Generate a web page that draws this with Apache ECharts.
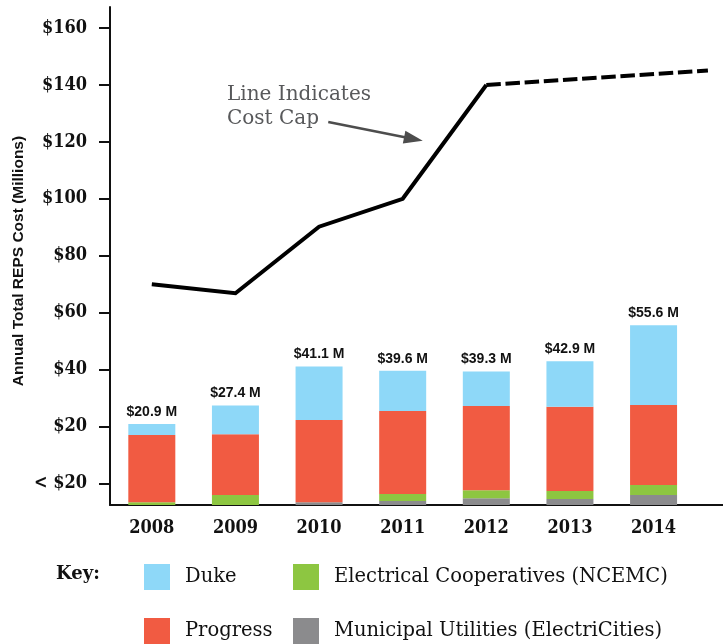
<!DOCTYPE html>
<html>
<head>
<meta charset="utf-8">
<title>Annual Total REPS Cost</title>
<script src="https://cdn.jsdelivr.net/npm/echarts@6/dist/echarts.min.js"></script>
<style>
  html, body { margin: 0; padding: 0; background: #fff; }
  #chart { width: 723px; height: 644px; }
</style>
</head>
<body>
<div id="chart"></div>
<script>
// Years on the category axis
const years = ['2008', '2009', '2010', '2011', '2012', '2013', '2014'];

// Lower end of the value axis (the bars rise from here)
const axisFloor = -7.6;

// Stack segments, in axis units ($ millions)
const municipal = [0, 0, 1.0, 1.4, 2.4, 2.1, 3.5];
const coops = [1.0, 3.5, 0, 2.5, 2.8, 2.8, 3.5];
const progress = [23.6, 21.4, 28.9, 29.1, 29.6, 29.6, 28.1];

// Annual totals written above each bar
const totals = [20.9, 27.4, 41.1, 39.6, 39.3, 42.9, 55.6];

// Cost cap: statutory values, then the projected (dashed) extension
const capYears = [2008, 2009, 2010, 2011, 2012];
const capValues = [70, 66.8, 90.2, 100, 140];
const capProjYears = [2012, 2014.65];
const capProjValues = [140, 145.1];

// Callout arrow pointing at the cap line (year, $M)
const arrowFrom = [2010.11, 127];
const arrowTo = [2011.24, 120.4];

// Tick labels on the value axis
const yTicks = [0, 20, 40, 60, 80, 100, 120, 140, 160];
const yTickLabels = ['< $20', '$20', '$40', '$60', '$80', '$100', '$120', '$140', '$160'];

// Duke segment fills the rest of each bar up to its total
const duke = totals.map((t, i) => +(t - (axisFloor + municipal[i] + coops[i] + progress[i])).toFixed(2));
const floorBase = years.map(() => axisFloor);

const COLORS = {
  duke: '#8ED8F8',
  progress: '#F15B42',
  coops: '#8DC641',
  municipal: '#8B8B8D'
};

const TICK_FONT = '"DejaVu Serif Condensed", "DejaVu Serif", serif';

const chart = echarts.init(document.getElementById('chart'), null, { renderer: 'canvas' });

const barCommon = {
  type: 'bar',
  stack: 'reps',
  stackStrategy: 'all',
  barWidth: 47,
  xAxisIndex: 0,
  yAxisIndex: 0
};

const legendCommon = {
  orient: 'vertical',
  top: 564,
  padding: 0,
  itemWidth: 26,
  itemHeight: 26,
  itemGap: 28,
  icon: 'rect',
  selectedMode: false,
  textStyle: {
    color: '#111',
    fontFamily: '"DejaVu Serif", serif',
    fontSize: 19.5,
    padding: [0, 0, 0, 10]
  }
};

const baseGraphics = [
  {
    type: 'text',
    x: 19,
    y: 261,
    rotation: Math.PI / 2,
    style: {
      text: 'Annual Total REPS Cost (Millions)',
      fill: '#111',
      font: 'bold 15.5px "Liberation Sans", Arial, sans-serif',
      textAlign: 'center',
      textVerticalAlign: 'middle'
    }
  },
  {
    type: 'text',
    left: 227,
    top: 83,
    style: {
      text: 'Line Indicates\nCost Cap',
      fill: '#58595B',
      font: '20px "DejaVu Serif", serif',
      lineHeight: 24
    }
  },
  {
    type: 'text',
    left: 56,
    top: 565,
    style: {
      text: 'Key:',
      fill: '#111',
      font: 'bold 18px "DejaVu Serif", serif'
    }
  }
];

const option = {
  backgroundColor: '#ffffff',
  animation: false,
  grid: {
    left: 110, top: 7, width: 669, height: 498,
    containLabel: false,
    outerBoundsMode: 'none'
  },
  xAxis: [
    {
      type: 'category',
      data: years.concat(['']),
      boundaryGap: true,
      axisLine: { onZero: false, lineStyle: { color: '#111', width: 2 } },
      axisTick: { alignWithLabel: true, length: 12, lineStyle: { color: '#111', width: 2 } },
      axisLabel: {
        margin: 14,
        color: '#111',
        fontFamily: TICK_FONT,
        fontWeight: 'bold',
        fontSize: 18
      },
      splitLine: { show: false }
    },
    {
      type: 'value',
      min: 2007.5,
      max: 2015.5,
      show: false
    }
  ],
  yAxis: {
    type: 'value',
    min: axisFloor,
    max: 167.4,
    axisLine: { show: true, onZero: false, lineStyle: { color: '#111', width: 2 } },
    axisTick: { show: true, length: 11, customValues: yTicks, lineStyle: { color: '#111', width: 2 } },
    axisLabel: {
      customValues: yTicks,
      margin: 23,
      color: '#111',
      fontFamily: TICK_FONT,
      fontWeight: 'bold',
      fontSize: 18,
      formatter: (v) => yTickLabels[yTicks.indexOf(v)]
    },
    splitLine: { show: false }
  },
  legend: [
    Object.assign({}, legendCommon, { data: ['Duke', 'Progress'], left: 144 }),
    Object.assign({}, legendCommon, {
      data: ['Electrical Cooperatives (NCEMC)', 'Municipal Utilities (ElectriCities)'],
      left: 293
    })
  ],
  graphic: baseGraphics,
  series: [
    Object.assign({}, barCommon, {
      name: 'floor',
      data: floorBase,
      silent: true,
      itemStyle: { color: 'rgba(0,0,0,0)' }
    }),
    Object.assign({}, barCommon, {
      name: 'Municipal Utilities (ElectriCities)',
      data: municipal,
      itemStyle: { color: COLORS.municipal }
    }),
    Object.assign({}, barCommon, {
      name: 'Electrical Cooperatives (NCEMC)',
      data: coops,
      itemStyle: { color: COLORS.coops }
    }),
    Object.assign({}, barCommon, {
      name: 'Progress',
      data: progress,
      itemStyle: { color: COLORS.progress }
    }),
    Object.assign({}, barCommon, {
      name: 'Duke',
      data: duke,
      itemStyle: { color: COLORS.duke },
      label: {
        show: true,
        position: 'top',
        distance: 5,
        color: '#111',
        fontFamily: '"Liberation Sans", Arial, sans-serif',
        fontWeight: 'bold',
        fontSize: 14,
        formatter: (p) => '$' + totals[p.dataIndex].toFixed(1) + ' M'
      }
    }),
    {
      name: 'Cost Cap',
      type: 'line',
      xAxisIndex: 1,
      yAxisIndex: 0,
      data: capYears.map((y, i) => [y, capValues[i]]),
      symbol: 'none',
      lineStyle: { color: '#000', width: 4, join: 'miter', cap: 'butt' },
      z: 5
    },
    {
      name: 'Cost Cap (projected)',
      type: 'line',
      xAxisIndex: 1,
      yAxisIndex: 0,
      data: capProjYears.map((y, i) => [y, capProjValues[i]]),
      symbol: 'none',
      clip: false,
      lineStyle: { color: '#000', width: 4, type: [14.5, 4.7], cap: 'butt' },
      z: 5
    }
  ]
};

chart.setOption(option);

// Callout arrow: placed in data space, then drawn as a shaft plus a solid head
(function drawCallout() {
  const finder = { xAxisIndex: 1, yAxisIndex: 0 };
  const p0 = chart.convertToPixel(finder, arrowFrom);
  const p1 = chart.convertToPixel(finder, arrowTo);
  const dx = p1[0] - p0[0];
  const dy = p1[1] - p0[1];
  const len = Math.sqrt(dx * dx + dy * dy);
  const ux = dx / len, uy = dy / len;
  const headLen = 19, headHalf = 6.5;
  const bx = p1[0] - ux * headLen, by = p1[1] - uy * headLen;
  const px = -uy, py = ux;
  chart.setOption({
    graphic: baseGraphics.concat([
      {
        type: 'line',
        silent: true,
        shape: { x1: p0[0], y1: p0[1], x2: bx + ux * 2, y2: by + uy * 2 },
        style: { stroke: '#4D4D4D', lineWidth: 2.5 }
      },
      {
        type: 'polygon',
        silent: true,
        shape: {
          points: [
            [p1[0], p1[1]],
            [bx + px * headHalf, by + py * headHalf],
            [bx - px * headHalf, by - py * headHalf]
          ]
        },
        style: { fill: '#4D4D4D' }
      }
    ])
  });
})();
</script>
</body>
</html>
